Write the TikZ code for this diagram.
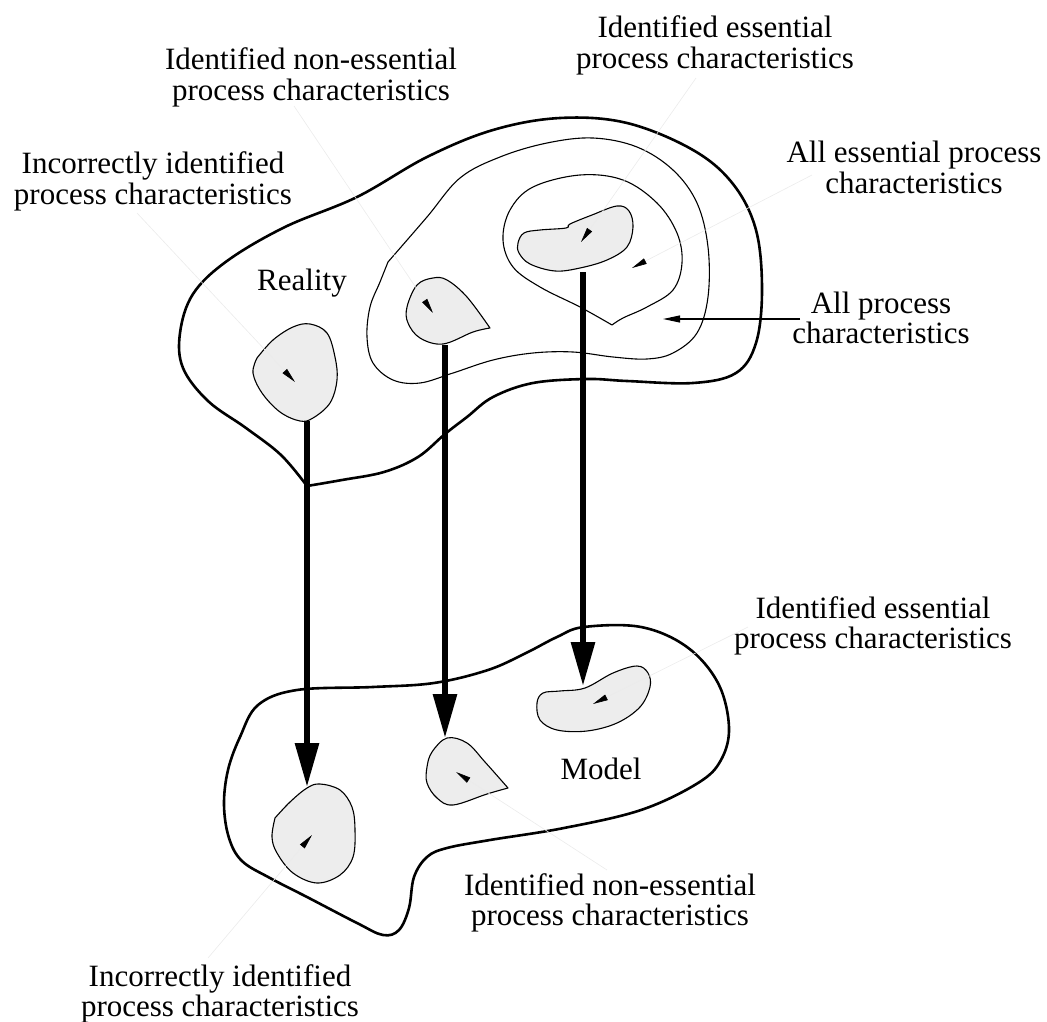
\documentclass[tikz,border=0pt]{standalone}
\usepackage{fontspec}
\setmainfont{Liberation Serif}
\usetikzlibrary{arrows.meta}
\newcommand\twolines[2]{\begin{tabular}[t]{@{}c@{}}#1\\#2\end{tabular}}
\begin{document}
\begin{tikzpicture}[x=1pt,y=-1pt,
  region/.style={line width=2.6pt, line join=round},
  contour/.style={line width=1.1pt, line join=round},
  charblob/.style={draw, line width=1.1pt, fill=black!7, line join=round},
  mapping/.style={line width=6pt, -{Triangle[length=44pt,width=23pt]}},
  leader/.style={draw=black!8, line width=0.6pt, -{Triangle[length=15pt,width=6pt,black]}},
  pointer/.style={line width=1.1pt, -{Triangle[length=17pt,width=7pt]}},
  lbl/.style={inner sep=0pt, anchor=base, font=\fontsize{31}{30.5}\selectfont},
]
\useasboundingbox (0,0) rectangle (1047,1022);

% ---------- Reality ----------
\draw[region] plot[smooth, tension=0.6] coordinates {
  (307,486) (281,455) (246,428) (208,401) (183,368) (180,333) (193,294)
  (227,261) (285,227) (357,197) (427,157) (493,130) (560,118) (627,123)
  (693,150) (733,184) (756,230) (762,290) (756,343) (736,373) (693,383)
  (627,381) (587,379) (533,383) (493,397) (467,417) (445,434) (418,457)
  (384,472) (342,480) (307,486)} -- cycle;

% all process characteristics
\draw[contour] plot[smooth, tension=0.6] coordinates {
  (388,262) (427,217) (460,178) (500,157) (547,143) (593,138) (637,147)
  (673,170) (697,203) (708,247) (708,297) (697,333) (673,353) (647,359)
  (613,357) (573,352) (533,353) (493,360) (453,373) (420,383) (393,380)
  (373,363) (367,337) (370,307) (380,282) (388,262)} -- cycle;

% all essential process characteristics
\draw[contour] plot[smooth, tension=0.6] coordinates {
  (612,325) (580,307) (540,287) (513,267) (503,240) (510,210) (533,187)
  (580,175) (623,180) (657,203) (677,233) (682,263) (673,290) (647,307)
  (623,318) (612,325)} -- cycle;

% characteristics in reality
\draw[charblob] plot[smooth cycle, tension=0.6] coordinates {
  (518,243) (524,233) (540,230) (566,228) (570,224) (592,215) (617,206)
  (629,211) (633,227) (627,247) (607,260) (580,268) (555,271) (530,264)
  (519,253)};
\draw[charblob] plot[smooth, tension=0.6] coordinates {
  (490,328) (473,332) (443,344) (420,338) (408,323) (407,307) (417,285)
  (433,278) (447,280) (467,297) (490,328)} -- cycle;
\draw[charblob] plot[smooth, tension=0.6] coordinates {
  (257,358) (273,340) (293,327) (310,324) (327,333) (335,357) (337,380)
  (330,403) (313,418) (300,421) (280,412) (262,393) (253,373) (257,358)} -- cycle;

% ---------- Model ----------
\draw[region] plot[smooth cycle, tension=0.6] coordinates {
  (584,627) (641,627) (687,647) (718,683) (729,727) (721,760) (698,783)
  (641,810) (564,828) (490,840) (447,848) (427,857) (414,877) (409,908)
  (399,930) (383,935) (357,923) (307,897) (270,878) (242,861) (229,838)
  (224,805) (228,770) (240,737) (258,705) (297,690) (373,687) (434,683)
  (488,670) (526,653) (557,637)};

\draw[charblob] plot[smooth cycle, tension=0.6] coordinates {
  (537,703) (543,693) (560,691) (585,688) (613,673) (637,666) (648,673)
  (650,687) (640,707) (617,723) (587,731) (557,730) (540,720)};
\draw[charblob] plot[smooth, tension=0.6] coordinates {
  (508,788) (487,794) (453,805) (437,798) (427,783) (427,767) (432,752)
  (447,738) (467,743) (485,762) (508,788)} -- cycle;
\draw[charblob] plot[smooth, tension=0.6] coordinates {
  (275,818) (290,802) (307,788) (320,784) (340,790) (352,807) (355,830)
  (353,857) (340,875) (317,883) (293,873) (277,853) (272,837) (275,818)} -- cycle;

% ---------- mapping arrows ----------
\coordinate (incR) at (307,421);  \coordinate (incM) at (307,787);
\coordinate (nonR) at (445,345);  \coordinate (nonM) at (445,738);
\coordinate (essR) at (583,272);  \coordinate (essM) at (583,686);
\draw[mapping] (incR) -- (incM);
\draw[mapping] (nonR) -- (nonM);
\draw[mapping] (essR) -- (essM);

% ---------- labels ----------
\node[lbl] (tEss)  at (715,38)  {\twolines{Identified essential}{process characteristics}};
\node[lbl] (tNon)  at (311,70)  {\twolines{Identified non-essential}{process characteristics}};
\node[lbl] (tInc)  at (153,174) {\twolines{Incorrectly identified}{process characteristics}};
\node[lbl] (tAllE) at (914,163) {\twolines{All essential process}{characteristics}};
\node[lbl] (tAll)  at (881,313) {\twolines{All process}{characteristics}};
\node[lbl] (mEss)  at (873,618) {\twolines{Identified essential}{process characteristics}};
\node[lbl] (mNon)  at (610,895) {\twolines{Identified non-essential}{process characteristics}};
\node[lbl] (mInc)  at (220,986) {\twolines{Incorrectly identified}{process characteristics}};
\node[lbl] (reality) at (302,290) {Reality};
\node[lbl] (model)   at (601,779) {Model};

% ---------- leaders ----------
\coordinate (lInc)  at (137,213);  \coordinate (pInc)  at (295,382);
\coordinate (lNon)  at (294,106);  \coordinate (pNon)  at (433,313);
\coordinate (lEss)  at (696,78);   \coordinate (pEss)  at (581,242);
\coordinate (lAllE) at (812,175);  \coordinate (pAllE) at (632,268);
\coordinate (lmEss) at (748,627);  \coordinate (pmEss) at (593,704);
\coordinate (lmNon) at (607,870);  \coordinate (pmNon) at (456,772);
\coordinate (lmInc) at (208,958);  \coordinate (pmInc) at (312,835);
\draw[leader] (lInc) -- (pInc);
\draw[leader] (lNon) -- (pNon);
\draw[leader] (lEss) -- (pEss);
\draw[leader] (lAllE) -- (pAllE);
\draw[leader] (lmEss) -- (pmEss);
\draw[leader] (lmNon) -- (pmNon);
\draw[leader] (lmInc) -- (pmInc);

\coordinate (lAll) at (800,319); \coordinate (pAll) at (663,319);
\draw[pointer] (lAll) -- (pAll);
\end{tikzpicture}
\end{document}
